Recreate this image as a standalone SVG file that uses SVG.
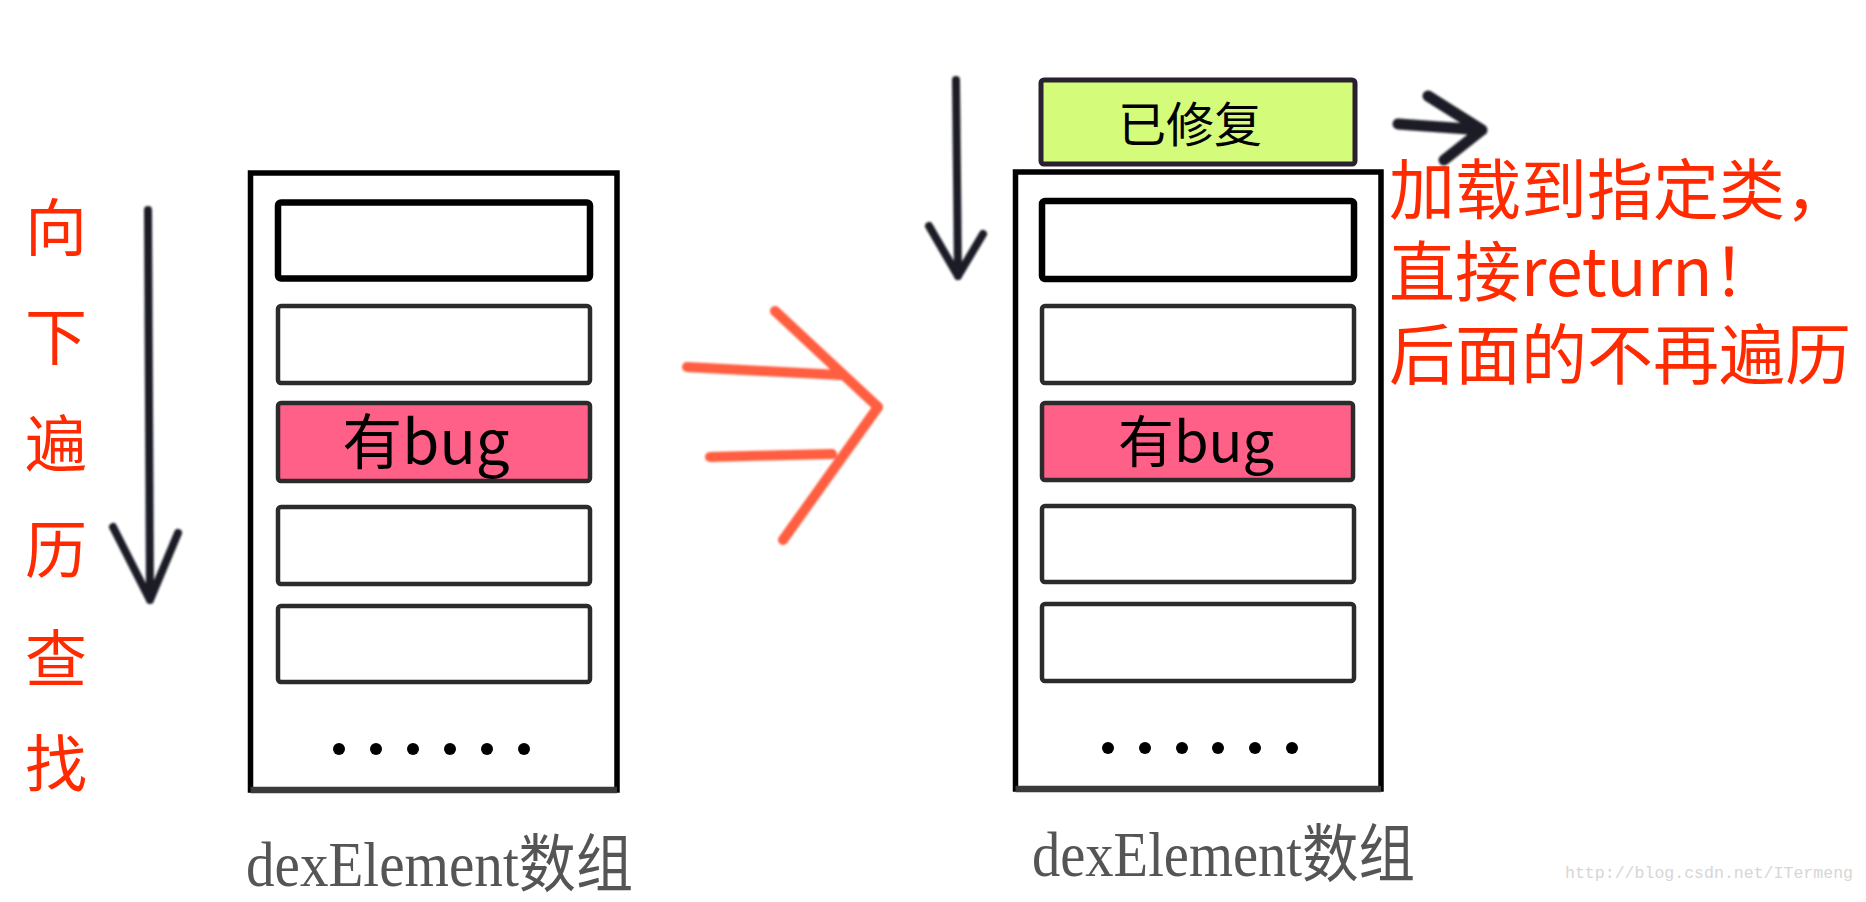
<svg xmlns="http://www.w3.org/2000/svg" width="1866" height="902" viewBox="0 0 1866 902">
  <defs>
    <style>
      .outer { fill: #ffffff; stroke: #000000; stroke-width: 5.5; }
      .outer-bottom { fill: none; stroke: #3a3a3a; stroke-width: 6.5; }
      .slot { fill: #ffffff; stroke: #2b2b2b; stroke-width: 4.5; }
      .slot-first { fill: #ffffff; stroke: #000000; stroke-width: 6.5; }
      .slot-bug { fill: #ff6088; stroke: #2b2b2b; stroke-width: 4.5; }
      .fixed { fill: #d5fb7a; stroke: #2a2030; stroke-width: 5; }
      .dot { fill: #000000; }
      .red { fill: #ff2a00; font-family: "Noto Sans CJK SC", "Noto Sans", sans-serif; }
      .black { fill: #000000; font-family: "Noto Sans CJK SC", "Noto Sans", sans-serif; }
      .label { fill: #555555; font-family: "Liberation Serif", "Noto Sans CJK SC", serif; font-size: 63px; }
      .wm { fill: #d6d6d6; font-family: "Liberation Mono", monospace; font-size: 16.5px; }
      .darrow { fill: none; stroke: #1c1e26; stroke-linecap: round; stroke-linejoin: round; }
      .rarrow { fill: none; stroke: #ff5536; stroke-width: 10; stroke-linecap: round; stroke-linejoin: round; opacity: 0.95; }
    </style>
    <filter id="soft" x="-10%" y="-10%" width="120%" height="120%">
      <feGaussianBlur stdDeviation="0.9"/>
    </filter>
  </defs>
  <rect width="1866" height="902" fill="#ffffff"/>

  <g id="left-array">
    <rect class="outer" x="250.5" y="173" width="366.5" height="617"/>
    <line class="outer-bottom" x1="250.5" y1="790" x2="617" y2="790"/>
    <rect class="slot-first" x="278" y="202.5" width="312" height="76" rx="3"/>
    <rect class="slot" x="278" y="306" width="312" height="77" rx="3"/>
    <rect class="slot-bug" x="278" y="403" width="312" height="78" rx="3"/>
    <text class="black" x="426" y="464" font-size="60" text-anchor="middle">有bug</text>
    <rect class="slot" x="278" y="507" width="312" height="77" rx="3"/>
    <rect class="slot" x="278" y="606" width="312" height="76" rx="3"/>
    <circle class="dot" cx="339" cy="749" r="6"/>
    <circle class="dot" cx="376" cy="749" r="6"/>
    <circle class="dot" cx="413" cy="749" r="6"/>
    <circle class="dot" cx="450" cy="749" r="6"/>
    <circle class="dot" cx="487" cy="749" r="6"/>
    <circle class="dot" cx="524" cy="749" r="6"/>
  </g>
  <g id="left-label">
    <text class="label" x="246" y="886" textLength="387" lengthAdjust="spacingAndGlyphs">dexElement数组</text>
  </g>

  <g id="left-caption">
    <text class="red" font-size="62" text-anchor="middle"><tspan x="56" y="251">向</tspan><tspan x="56" y="360">下</tspan><tspan x="56" y="467">遍</tspan><tspan x="56" y="573">历</tspan><tspan x="56" y="682">查</tspan><tspan x="56" y="787">找</tspan></text>
  </g>

  <g id="right-array">
    <rect class="fixed" x="1041" y="80" width="314" height="84" rx="3"/>
    <text class="black" x="1190" y="142" font-size="48" text-anchor="middle">已修复</text>
    <rect class="outer" x="1015.5" y="172" width="365.5" height="617"/>
    <line class="outer-bottom" x1="1015.5" y1="789" x2="1381" y2="789"/>
    <rect class="slot-first" x="1042" y="201" width="312" height="78" rx="3"/>
    <rect class="slot" x="1042" y="306" width="312" height="77" rx="3"/>
    <rect class="slot-bug" x="1042" y="403" width="311" height="77" rx="3"/>
    <text class="black" x="1196" y="462" font-size="56" text-anchor="middle">有bug</text>
    <rect class="slot" x="1042" y="506" width="312" height="76" rx="3"/>
    <rect class="slot" x="1042" y="604" width="312" height="77" rx="3"/>
    <circle class="dot" cx="1108" cy="748" r="6"/>
    <circle class="dot" cx="1145" cy="748" r="6"/>
    <circle class="dot" cx="1182" cy="748" r="6"/>
    <circle class="dot" cx="1218" cy="748" r="6"/>
    <circle class="dot" cx="1255" cy="748" r="6"/>
    <circle class="dot" cx="1292" cy="748" r="6"/>
  </g>
  <g id="right-label">
    <text class="label" x="1032" y="876" textLength="383" lengthAdjust="spacingAndGlyphs">dexElement数组</text>
  </g>

  <g id="right-caption">
    <text class="red" font-size="66"><tspan x="1389" y="214">加载到指定类，</tspan><tspan x="1389" y="296">直接return！</tspan><tspan x="1389" y="379">后面的不再遍历</tspan></text>
  </g>

  <g id="connectors" filter="url(#soft)">
    <path class="darrow" stroke-width="8" d="M148 210 L150 600 M113 527 L150 600 L178 533"/>
    <path class="darrow" stroke-width="8" d="M956 80 L958 276 M929 226 L958 276 L983 234"/>
    <path class="darrow" stroke-width="11" d="M1398 124 L1482 130 M1428 96 L1482 130 L1444 160"/>
    <path class="rarrow" d="M687 367 L840 375 M710 457 L832 454 M775 311 L878 407 L783 540"/>
  </g>

  <g id="watermark">
    <text class="wm" x="1565" y="878" textLength="288" lengthAdjust="spacingAndGlyphs">http://blog.csdn.net/ITermeng</text>
  </g>
</svg>
